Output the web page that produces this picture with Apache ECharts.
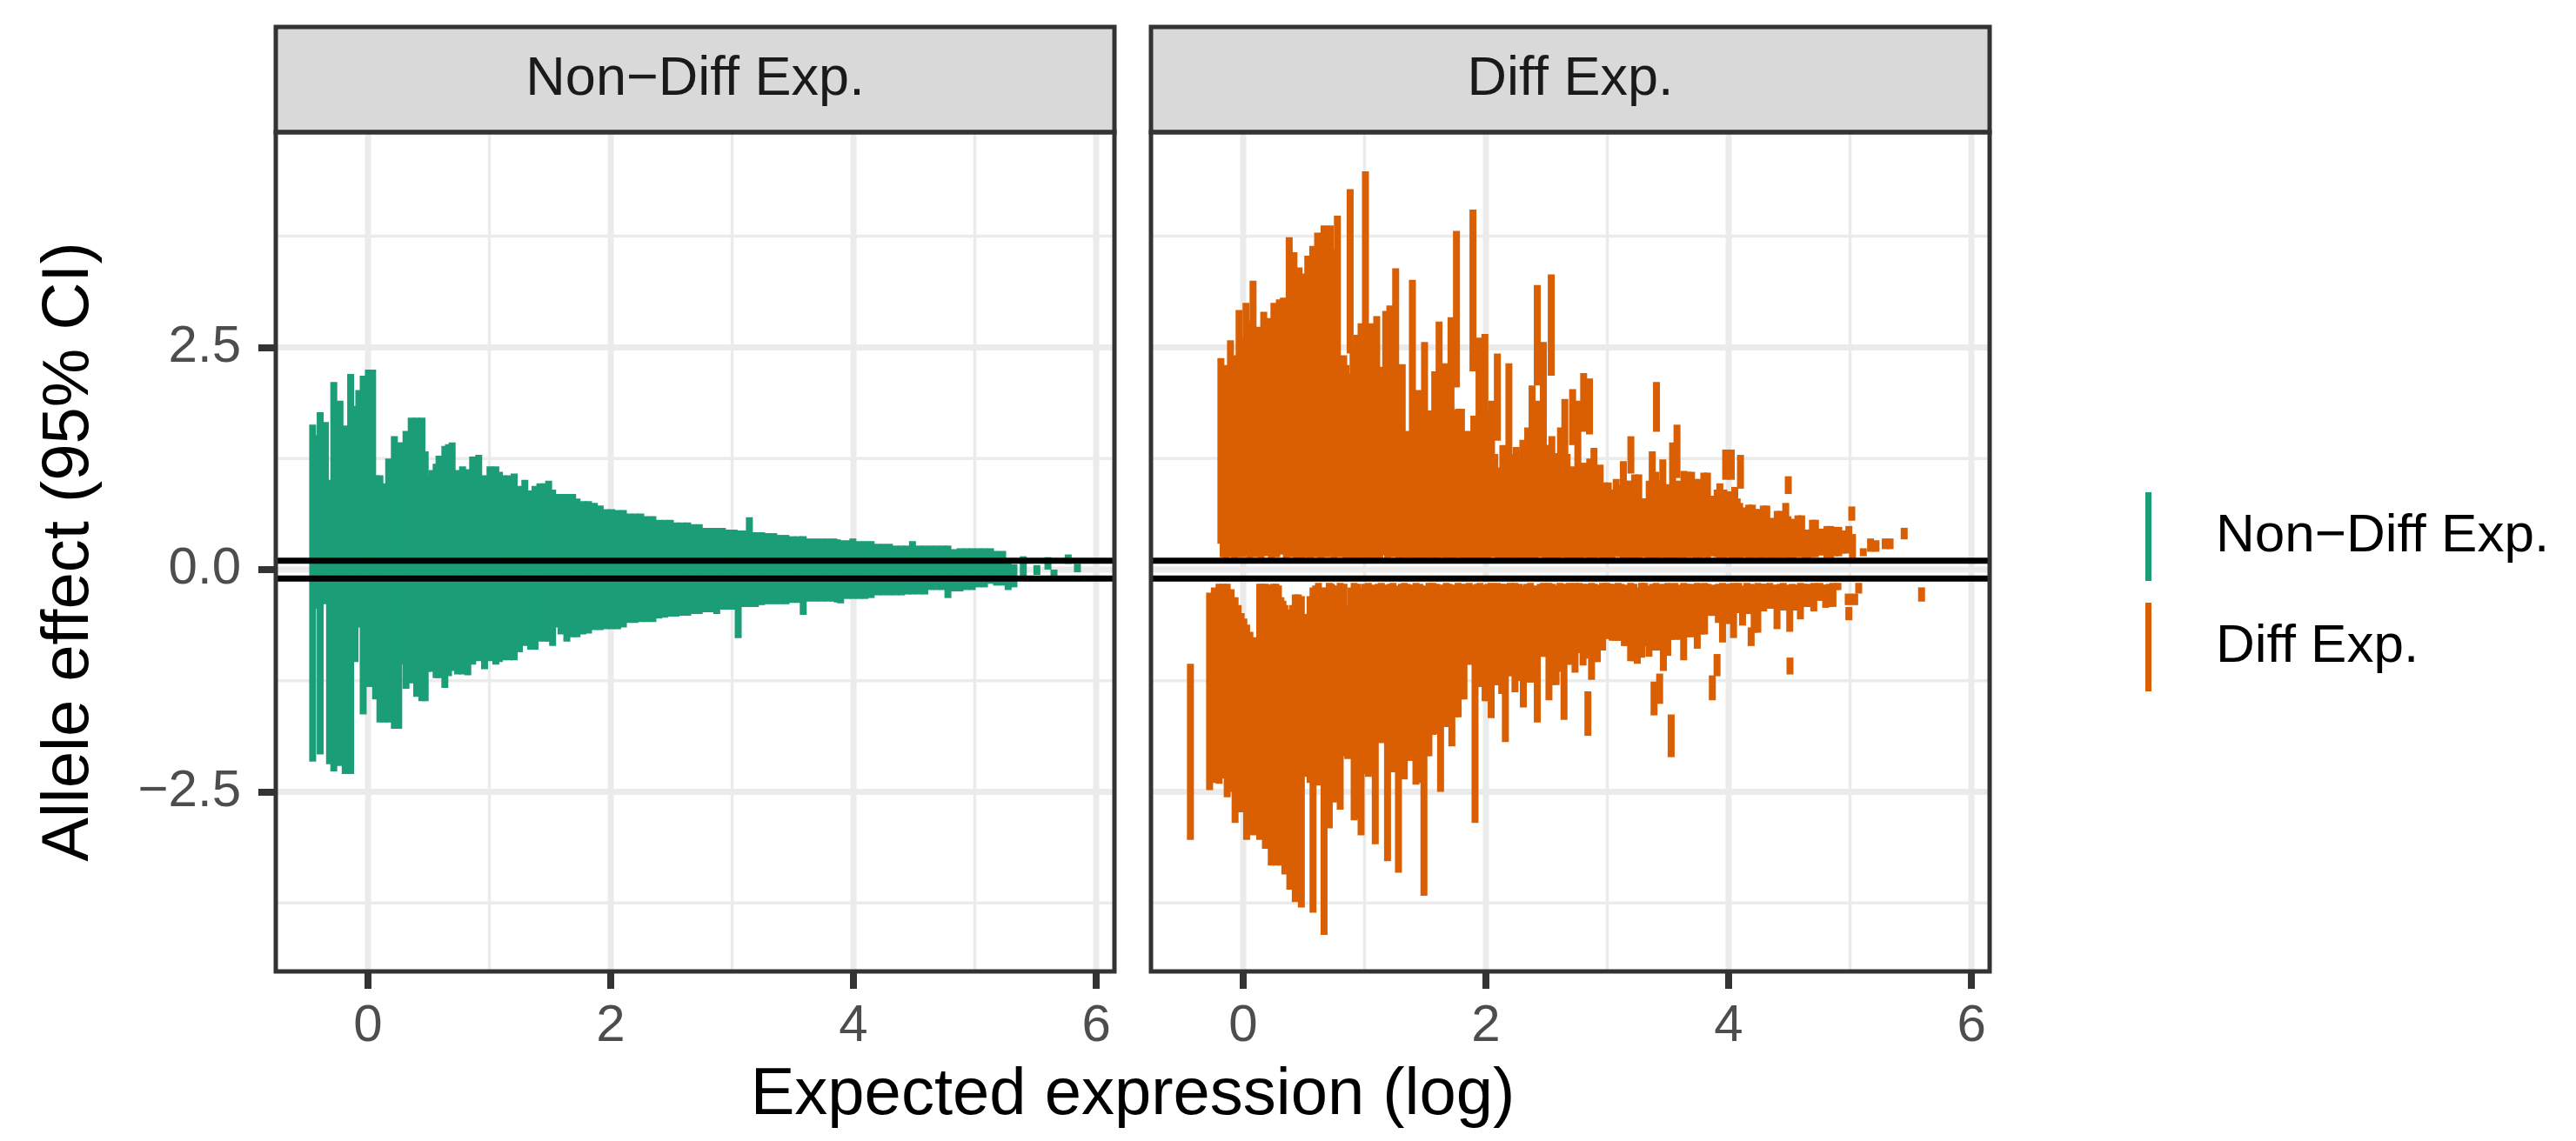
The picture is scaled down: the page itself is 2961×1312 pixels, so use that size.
<!DOCTYPE html>
<html>
<head>
<meta charset="utf-8">
<title>Allele effect vs expected expression</title>
<script src="https://cdn.jsdelivr.net/npm/echarts@6.0.0/dist/echarts.min.js"></script>
<style>
    html, body { margin: 0; padding: 0; background: #fff; }
    #chart { width: 2961px; height: 1312px; }
</style>
</head>
<body>
<div id="chart"></div>
<script>
// facet / legend names
var panelNames = ["Non\u2212Diff Exp.", "Diff Exp."];

// axis ticks and grid breaks
var xTicks = [0, 2, 4, 6];
var xMinorBreaks = [1, 3, 5];
var yTicks = [-2.5, 0, 2.5];
var yMinorBreaks = [-3.75, -1.25, 1.25, 3.75];

// horizontal reference lines
var refLines = [-0.1, 0.1];

// Non-Diff Exp. intervals: [expected expression, lower CI, upper CI]
var nonDiffIntervals = [
    [-0.456, -2.16, 1.63], [-0.427, -0.44, 1.51], [-0.394, -2.08, 1.77], [-0.351, -0.39, 1.66],
    [-0.317, -2.19, 1.01], [-0.282, -2.27, 2.11], [-0.231, -2.21, 1.90], [-0.188, -2.30, 1.62],
    [-0.143, -2.30, 2.20], [-0.107, -1.04, 1.84], [-0.076, -0.65, 2.02], [-0.040, -1.63, 2.18],
    [0.003, -1.32, 2.25], [0.038, -1.32, 2.25], [0.062, -1.46, 1.06], [0.098, -1.72, 1.06],
    [0.134, -1.72, 0.97], [0.170, -1.72, 1.25], [0.217, -1.79, 1.50], [0.253, -1.79, 1.43],
    [0.272, -1.07, 1.43], [0.313, -1.34, 1.56], [0.356, -1.28, 1.71], [0.401, -1.43, 1.71],
    [0.444, -1.48, 1.71], [0.471, -1.48, 1.33], [0.490, -1.15, 1.05], [0.526, -1.15, 1.12],
    [0.561, -1.22, 1.19], [0.585, -1.22, 1.28], [0.633, -1.33, 1.39], [0.663, -1.20, 1.41],
    [0.693, -1.14, 1.43], [0.738, -1.18, 1.12], [0.779, -1.18, 1.16], [0.822, -1.19, 1.13],
    [0.862, -1.07, 1.27], [0.912, -1.03, 1.29], [0.960, -1.12, 1.06], [1.005, -1.03, 1.16],
    [1.053, -1.07, 1.16], [1.083, -1.04, 1.10], [1.113, -1.02, 1.06], [1.161, -1.02, 1.06],
    [1.204, -1.02, 1.08], [1.247, -0.93, 0.94], [1.292, -0.86, 1.01], [1.340, -0.90, 0.89],
    [1.376, -0.90, 0.94], [1.416, -0.81, 0.97], [1.459, -0.81, 0.97], [1.488, -0.81, 1.00],
    [1.521, -0.86, 0.90], [1.555, -0.65, 0.85], [1.590, -0.73, 0.85], [1.638, -0.81, 0.85],
    [1.686, -0.76, 0.85], [1.722, -0.76, 0.80], [1.770, -0.73, 0.77], [1.817, -0.72, 0.77],
    [1.865, -0.68, 0.75], [1.913, -0.68, 0.72], [1.960, -0.67, 0.68], [2.008, -0.67, 0.68],
    [2.056, -0.67, 0.67], [2.104, -0.65, 0.67], [2.152, -0.60, 0.63], [2.199, -0.60, 0.63],
    [2.247, -0.59, 0.63], [2.295, -0.59, 0.60], [2.347, -0.59, 0.60], [2.395, -0.55, 0.56],
    [2.443, -0.54, 0.56], [2.491, -0.53, 0.56], [2.538, -0.53, 0.53], [2.586, -0.52, 0.53],
    [2.634, -0.52, 0.53], [2.682, -0.50, 0.51], [2.729, -0.50, 0.51], [2.777, -0.48, 0.47],
    [2.825, -0.48, 0.47], [2.873, -0.50, 0.47], [2.920, -0.45, 0.47], [2.968, -0.45, 0.45],
    [3.016, -0.45, 0.45], [3.050, -0.77, 0.44], [3.095, -0.42, 0.44], [3.142, -0.42, 0.59],
    [3.192, -0.42, 0.42], [3.243, -0.40, 0.42], [3.293, -0.39, 0.41], [3.343, -0.39, 0.41],
    [3.393, -0.39, 0.39], [3.443, -0.39, 0.39], [3.493, -0.375, 0.375], [3.543, -0.375, 0.375],
    [3.586, -0.51, 0.375], [3.636, -0.36, 0.35], [3.687, -0.36, 0.35], [3.737, -0.36, 0.35],
    [3.787, -0.36, 0.35], [3.837, -0.36, 0.35], [3.866, -0.37, 0.34], [3.894, -0.38, 0.33],
    [3.945, -0.33, 0.33], [3.995, -0.33, 0.35], [4.045, -0.33, 0.32], [4.095, -0.33, 0.32],
    [4.145, -0.32, 0.32], [4.195, -0.29, 0.29], [4.245, -0.29, 0.29], [4.296, -0.29, 0.29],
    [4.346, -0.29, 0.27], [4.396, -0.29, 0.27], [4.446, -0.28, 0.27], [4.486, -0.28, 0.32],
    [4.537, -0.28, 0.27], [4.587, -0.28, 0.27], [4.637, -0.23, 0.27], [4.687, -0.23, 0.27],
    [4.737, -0.23, 0.27], [4.778, -0.32, 0.27], [4.828, -0.245, 0.23], [4.878, -0.245, 0.24],
    [4.928, -0.23, 0.24], [4.978, -0.23, 0.24], [5.029, -0.20, 0.24], [5.079, -0.20, 0.24],
    [5.129, -0.16, 0.24], [5.179, -0.18, 0.21], [5.229, -0.18, 0.21], [5.274, -0.23, 0.12],
    [5.322, -0.20, 0.06], [5.399, -0.075, 0.15], [5.511, -0.06, 0.05], [5.602, 0.00, 0.14],
    [5.652, -0.075, 0.00], [5.769, 0.065, 0.17], [5.845, -0.03, 0.065]
];

// Diff Exp. intervals above zero
var diffUpperIntervals = [
    [-0.184, 0.29, 2.38], [-0.165, 0.14, 2.20], [-0.146, 0.13, 2.30], [-0.120, 0.14, 2.10],
    [-0.105, 0.52, 2.58], [-0.070, 0.13, 2.41], [-0.050, 0.14, 2.30], [-0.034, 0.37, 2.92],
    [-0.005, 0.14, 2.60], [0.023, 0.16, 3.00], [0.052, 0.13, 2.80], [0.081, 0.20, 3.25],
    [0.103, 0.14, 2.60], [0.124, 0.31, 2.73], [0.147, 0.13, 2.60], [0.169, 0.23, 2.90],
    [0.190, 0.15, 2.70], [0.212, 0.53, 2.83], [0.232, 0.13, 2.70], [0.253, 0.21, 3.00],
    [0.276, 0.14, 2.90], [0.298, 0.17, 3.04], [0.331, 0.17, 3.06], [0.355, 0.13, 2.95],
    [0.379, 0.85, 3.74], [0.398, 0.14, 3.20], [0.418, 0.42, 3.57], [0.440, 0.13, 3.30],
    [0.460, 0.13, 3.40], [0.489, 0.13, 3.33], [0.510, 0.15, 3.20], [0.532, 0.14, 3.53],
    [0.552, 0.13, 3.40], [0.573, 0.41, 3.64], [0.593, 0.14, 3.50], [0.613, 0.49, 3.79],
    [0.640, 0.13, 3.60], [0.666, 0.17, 3.87], [0.692, 0.14, 3.70], [0.718, 0.17, 3.87],
    [0.747, 0.13, 3.60], [0.776, 0.21, 3.98], [0.802, 0.14, 2.30], [0.828, 0.41, 2.41],
    [0.847, 0.13, 2.30], [0.866, 0.13, 2.20], [0.881, 2.43, 4.28], [0.905, 0.13, 2.50],
    [0.920, 0.15, 2.40], [0.938, 0.14, 2.64], [0.955, 0.13, 2.50], [0.971, 0.13, 2.77],
    [0.990, 0.14, 2.60], [1.007, 0.90, 4.48], [1.010, 0.13, 2.50], [1.028, 0.13, 2.60],
    [1.048, 0.13, 2.77], [1.074, 0.14, 2.70], [1.100, 0.13, 2.85], [1.125, 0.13, 2.20],
    [1.150, 0.16, 2.28], [1.174, 0.31, 2.91], [1.190, 0.13, 2.20], [1.208, 0.31, 2.97],
    [1.230, 0.14, 2.50], [1.256, 0.18, 3.39], [1.283, 0.13, 2.20], [1.310, 0.13, 2.31],
    [1.328, 0.14, 1.50], [1.346, 0.14, 1.56], [1.370, 0.13, 1.50], [1.394, 0.20, 3.26],
    [1.419, 0.13, 1.90], [1.444, 0.13, 2.02], [1.469, 0.14, 1.90], [1.494, 0.13, 2.56],
    [1.519, 0.13, 1.70], [1.544, 0.18, 1.79], [1.561, 0.14, 1.70], [1.578, 0.13, 2.23],
    [1.596, 0.13, 2.10], [1.614, 0.14, 2.79], [1.640, 0.14, 2.20], [1.666, 0.13, 2.32],
    [1.689, 0.13, 2.20], [1.712, 0.13, 2.84], [1.735, 0.13, 1.80], [1.757, 2.05, 3.81],
    [1.775, 0.14, 1.81], [1.798, 0.13, 1.81], [1.823, 0.14, 1.50], [1.848, 0.13, 1.56],
    [1.870, 0.13, 1.50], [1.893, 2.23, 4.05], [1.900, 0.14, 1.73], [1.922, 0.13, 1.70],
    [1.943, 0.13, 2.61], [1.967, 0.14, 2.40], [1.991, 0.13, 2.65], [2.018, 0.13, 1.80],
    [2.046, 0.15, 1.90], [2.073, 0.14, 1.30], [2.094, 1.45, 2.43], [2.100, 0.13, 1.15],
    [2.120, 0.13, 1.10], [2.139, 0.13, 1.40], [2.164, 0.13, 1.30], [2.189, 0.40, 2.32],
    [2.195, 0.13, 1.30], [2.219, 0.14, 1.30], [2.249, 0.13, 1.38], [2.276, 0.13, 1.30],
    [2.304, 0.14, 1.46], [2.324, 0.13, 1.40], [2.344, 0.13, 1.60], [2.362, 0.14, 1.50],
    [2.380, 0.13, 2.07], [2.405, 0.13, 1.80], [2.423, 2.07, 3.20], [2.430, 0.15, 1.90],
    [2.452, 0.14, 1.60], [2.473, 0.30, 2.56], [2.490, 0.13, 1.40], [2.508, 0.13, 1.40],
    [2.538, 2.18, 3.32], [2.543, 0.13, 1.50], [2.560, 0.14, 1.20], [2.578, 0.13, 1.31],
    [2.596, 0.13, 1.20], [2.614, 0.14, 1.60], [2.632, 0.14, 1.40], [2.650, 0.30, 1.92],
    [2.668, 0.13, 1.30], [2.690, 0.13, 1.10], [2.714, 1.40, 2.03], [2.720, 0.13, 1.16],
    [2.738, 0.14, 1.10], [2.757, 0.13, 1.90], [2.778, 0.13, 1.20], [2.805, 1.55, 2.21],
    [2.800, 0.14, 1.20], [2.828, 0.14, 1.20], [2.853, 1.52, 2.15], [2.855, 0.13, 1.25],
    [2.872, 0.13, 1.20], [2.890, 0.13, 1.37], [2.915, 0.14, 1.10], [2.941, 0.14, 1.18],
    [2.958, 0.13, 0.95], [2.975, 0.13, 0.98], [3.008, 0.13, 0.98], [3.040, 0.13, 0.90],
    [3.073, 0.15, 1.02], [3.100, 0.14, 0.95], [3.132, 0.13, 1.22], [3.165, 0.13, 1.00],
    [3.194, 1.08, 1.50], [3.190, 0.13, 1.00], [3.225, 0.13, 1.07], [3.259, 0.13, 1.07],
    [3.292, 0.14, 0.80], [3.323, 0.14, 0.80], [3.345, 0.13, 1.00], [3.370, 0.13, 1.33],
    [3.405, 1.55, 2.11], [3.400, 0.13, 1.10], [3.420, 0.13, 0.90], [3.440, 0.14, 1.00],
    [3.457, 0.15, 1.24], [3.480, 0.13, 0.90], [3.505, 0.13, 0.96], [3.538, 0.13, 1.43],
    [3.574, 1.03, 1.63], [3.560, 0.14, 1.00], [3.580, 0.13, 0.95], [3.605, 0.14, 1.00],
    [3.631, 0.13, 1.11], [3.665, 0.14, 1.10], [3.694, 0.14, 1.10], [3.730, 0.13, 1.02],
    [3.760, 0.13, 1.02], [3.795, 0.14, 1.09], [3.825, 0.13, 1.09], [3.855, 0.15, 0.83],
    [3.880, 0.15, 0.83], [3.905, 0.14, 0.90], [3.927, 0.13, 0.97], [3.960, 0.13, 0.90],
    [3.975, 1.01, 1.35], [4.000, 0.14, 0.88], [4.021, 1.01, 1.35], [4.025, 0.13, 0.85],
    [4.050, 0.13, 0.93], [4.070, 0.14, 0.80], [4.090, 0.13, 0.75], [4.097, 0.91, 1.29],
    [4.110, 0.14, 0.70], [4.130, 0.14, 0.65], [4.165, 0.13, 0.73], [4.195, 0.13, 0.73],
    [4.225, 0.14, 0.68], [4.255, 0.13, 0.68], [4.285, 0.13, 0.72], [4.314, 0.14, 0.72],
    [4.345, 0.13, 0.58], [4.374, 0.13, 0.58], [4.400, 0.14, 0.66], [4.429, 0.13, 0.66],
    [4.450, 0.14, 0.62], [4.470, 0.15, 0.75], [4.491, 0.85, 1.05], [4.488, 0.13, 0.60],
    [4.505, 0.13, 0.57], [4.536, 0.13, 0.57], [4.570, 0.14, 0.61], [4.601, 0.14, 0.61],
    [4.630, 0.13, 0.45], [4.656, 0.13, 0.45], [4.690, 0.14, 0.56], [4.715, 0.14, 0.56],
    [4.750, 0.16, 0.46], [4.780, 0.16, 0.46], [4.810, 0.13, 0.49], [4.840, 0.13, 0.49],
    [4.875, 0.15, 0.48], [4.907, 0.15, 0.48], [4.935, 0.18, 0.44], [4.966, 0.18, 0.44],
    [4.990, 0.20, 0.49], [5.014, 0.55, 0.71], [5.020, 0.13, 0.40], [5.109, 0.15, 0.24],
    [5.169, 0.20, 0.35], [5.214, 0.20, 0.33], [5.290, 0.23, 0.35], [5.330, 0.23, 0.35],
    [5.446, 0.34, 0.47]
];

// Diff Exp. intervals below zero
var diffLowerIntervals = [
    [-0.435, -3.04, -1.06], [-0.277, -2.48, -0.26], [-0.238, -2.40, -0.20], [-0.199, -2.41, -0.16],
    [-0.165, -2.35, -0.16], [-0.132, -2.56, -0.16], [-0.100, -2.50, -0.22], [-0.067, -2.85, -0.31],
    [-0.042, -2.60, -0.40], [-0.017, -2.73, -0.49], [0.005, -2.70, -0.55], [0.028, -3.04, -0.62],
    [0.055, -2.90, -0.70], [0.083, -2.99, -0.76], [0.110, -2.90, -0.80], [0.136, -3.04, -0.16],
    [0.160, -3.00, -0.16], [0.183, -3.14, -0.16], [0.207, -3.10, -0.17], [0.231, -3.33, -0.18],
    [0.250, -3.20, -0.16], [0.270, -3.33, -0.16], [0.290, -3.25, -0.18], [0.310, -3.33, -0.31],
    [0.327, -3.30, -0.35], [0.343, -3.43, -0.40], [0.364, -3.40, -0.45], [0.384, -3.60, -0.50],
    [0.406, -3.50, -0.40], [0.429, -3.74, -0.28], [0.454, -3.60, -0.28], [0.479, -3.80, -0.30],
    [0.503, -2.30, -0.50], [0.527, -2.33, -0.78], [0.551, -2.40, -0.30], [0.575, -3.86, -0.20],
    [0.597, -2.40, -0.18], [0.620, -2.43, -0.15], [0.643, -2.40, -0.20], [0.666, -4.11, -0.30],
    [0.688, -2.85, -0.20], [0.709, -2.91, -0.15], [0.727, -2.60, -0.16], [0.744, -2.62, -0.25],
    [0.771, -2.60, -0.18], [0.799, -2.70, -0.15], [0.830, -2.10, -0.16], [0.861, -2.13, -0.40],
    [0.888, -2.10, -0.20], [0.914, -2.82, -0.15], [0.943, -2.80, -0.16], [0.971, -2.99, -0.20],
    [1.001, -2.30, -0.16], [1.031, -2.33, -0.15], [1.060, -2.30, -0.17], [1.088, -3.09, -0.20],
    [1.113, -1.95, -0.16], [1.138, -1.95, -0.15], [1.164, -1.95, -0.17], [1.189, -3.28, -0.25],
    [1.212, -2.25, -0.16], [1.234, -2.28, -0.15], [1.257, -2.25, -0.18], [1.279, -3.41, -0.30],
    [1.303, -2.35, -0.16], [1.327, -2.36, -0.15], [1.350, -2.15, -0.16], [1.372, -2.15, -0.20],
    [1.398, -2.15, -0.17], [1.423, -2.42, -0.15], [1.456, -2.40, -0.16], [1.489, -3.67, -0.35],
    [1.510, -2.10, -0.18], [1.530, -2.10, -0.15], [1.564, -1.86, -0.15], [1.595, -1.85, -0.16],
    [1.626, -2.50, -0.20], [1.650, -1.77, -0.17], [1.673, -1.77, -0.15], [1.696, -1.77, -0.16],
    [1.719, -1.99, -0.20], [1.745, -1.66, -0.17], [1.771, -1.66, -0.15], [1.795, -1.46, -0.16],
    [1.819, -1.46, -0.18], [1.840, -1.07, -0.16], [1.862, -1.07, -0.15], [1.886, -1.07, -0.17],
    [1.910, -2.85, -0.70], [1.930, -1.32, -0.16], [1.950, -1.32, -0.15], [1.972, -1.32, -0.17],
    [1.993, -1.48, -0.20], [2.018, -1.48, -0.16], [2.043, -1.67, -0.15], [2.068, -1.30, -0.17],
    [2.093, -1.30, -0.15], [2.112, -1.30, -0.16], [2.130, -1.40, -0.16], [2.160, -1.94, -0.22],
    [2.180, -1.20, -0.16], [2.200, -1.20, -0.15], [2.239, -1.38, -0.15], [2.257, -1.25, -0.17],
    [2.275, -1.25, -0.16], [2.308, -1.55, -0.18], [2.337, -1.27, -0.16], [2.366, -1.27, -0.15],
    [2.395, -1.27, -0.18], [2.423, -1.72, -0.25], [2.448, -0.98, -0.16], [2.473, -0.98, -0.15],
    [2.496, -0.98, -0.17], [2.519, -1.47, -0.15], [2.548, -1.30, -0.16], [2.578, -1.30, -0.18],
    [2.610, -1.15, -0.15], [2.643, -1.69, -0.20], [2.665, -1.07, -0.16], [2.686, -1.07, -0.15],
    [2.710, -1.07, -0.17], [2.734, -1.16, -0.15], [2.769, -0.94, -0.15], [2.800, -1.08, -0.16],
    [2.835, -1.00, -0.16], [2.840, -1.87, -1.37], [2.870, -1.24, -0.15], [2.894, -1.04, -0.16],
    [2.918, -1.04, -0.18], [2.940, -0.91, -0.17], [2.961, -0.91, -0.15], [2.996, -0.78, -0.15],
    [3.018, -0.78, -0.16], [3.040, -0.80, -0.16], [3.065, -0.80, -0.17], [3.090, -0.80, -0.15],
    [3.115, -0.80, -0.16], [3.140, -0.86, -0.18], [3.166, -0.86, -0.17], [3.192, -1.03, -0.15],
    [3.220, -1.03, -0.16], [3.247, -1.06, -0.20], [3.283, -0.99, -0.15], [3.307, -0.86, -0.15],
    [3.343, -0.98, -0.18], [3.372, -0.91, -0.16], [3.385, -1.64, -1.26], [3.402, -0.91, -0.15],
    [3.431, -1.51, -1.17], [3.432, -0.91, -0.17], [3.462, -1.14, -0.16], [3.498, -0.97, -0.15],
    [3.526, -2.11, -1.63], [3.527, -0.79, -0.16], [3.557, -0.79, -0.15], [3.600, -0.79, -0.17],
    [3.629, -1.02, -0.15], [3.655, -0.76, -0.16], [3.682, -0.76, -0.16], [3.711, -0.76, -0.17],
    [3.741, -0.89, -0.15], [3.771, -0.73, -0.16], [3.801, -0.73, -0.15], [3.830, -0.52, -0.16],
    [3.858, -0.52, -0.18], [3.865, -1.47, -1.19], [3.880, -0.52, -0.17], [3.904, -1.20, -0.95],
    [3.915, -0.60, -0.16], [3.949, -0.82, -0.15], [3.970, -0.61, -0.17], [3.992, -0.61, -0.16],
    [4.016, -0.61, -0.16], [4.040, -0.77, -0.15], [4.062, -0.49, -0.16], [4.083, -0.49, -0.15],
    [4.114, -0.63, -0.18], [4.150, -0.50, -0.15], [4.180, -0.50, -0.16], [4.185, -0.86, -0.65],
    [4.210, -0.71, -0.17], [4.240, -0.71, -0.15], [4.264, -0.47, -0.16], [4.288, -0.47, -0.16],
    [4.313, -0.44, -0.16], [4.338, -0.44, -0.15], [4.368, -0.44, -0.17], [4.398, -0.67, -0.17],
    [4.424, -0.46, -0.16], [4.450, -0.46, -0.15], [4.477, -0.46, -0.17], [4.503, -0.70, -0.18],
    [4.505, -1.18, -0.99], [4.525, -0.46, -0.16], [4.548, -0.46, -0.20], [4.570, -0.46, -0.17],
    [4.591, -0.56, -0.15], [4.617, -0.42, -0.16], [4.644, -0.42, -0.16], [4.672, -0.42, -0.17],
    [4.701, -0.47, -0.15], [4.726, -0.35, -0.16], [4.751, -0.35, -0.15], [4.775, -0.35, -0.17],
    [4.799, -0.43, -0.17], [4.829, -0.42, -0.16], [4.859, -0.42, -0.15], [4.880, -0.23, -0.16],
    [4.900, -0.23, -0.15], [4.985, -0.40, -0.27], [4.990, -0.57, -0.42], [5.038, -0.40, -0.27],
    [5.071, -0.27, -0.15], [5.589, -0.36, -0.20]
];

/**
 * facet chart of allele effects
 */
var alleleChart = {

    params: {
        chart: undefined
    },

    // pixel layout of the two facets
    layout: {
        panelLeft: [317, 1323],
        panelTop: 152,
        panelWidth: 964,
        panelHeight: 965,
        stripTop: 31,
        stripHeight: 121,
        xRange: [-0.76, 6.15],
        yRange: [-4.52, 4.92]
    },

    colors: ["#1B9E77", "#D95F02"],
    font: "'Liberation Sans', Arial, Helvetica, sans-serif",

    /**
     * entry point
     */
    init: function() {
        alleleChart.params.chart = echarts.init(document.getElementById("chart"));
        alleleChart.params.chart.setOption(alleleChart.getOption(), true);
    },

    /**
     * one vertical interval per row: x, lower, upper
     */
    renderInterval: function(params, api) {
        var top = api.coord([api.value(0), api.value(2)]);
        var bottom = api.coord([api.value(0), api.value(1)]);
        return {
            type: "line",
            shape: { x1: top[0], y1: top[1], x2: bottom[0], y2: bottom[1] },
            style: { stroke: api.visual("color"), lineWidth: 8, lineCap: "butt" }
        };
    },

    /**
     * panel grid lines (dim 0 = vertical, 1 = horizontal; flag 1 = major)
     */
    renderGuide: function(params, api) {
        var cs = params.coordSys;
        var width = api.value(2) === 1 ? 7 : 3.5;
        var shape;
        if (api.value(0) === 0) {
            var px = api.coord([api.value(1), 0])[0];
            shape = { x1: px, y1: cs.y, x2: px, y2: cs.y + cs.height };
        } else {
            var py = api.coord([0, api.value(1)])[1];
            shape = { x1: cs.x, y1: py, x2: cs.x + cs.width, y2: py };
        }
        return { type: "line", shape: shape, style: { stroke: "#EBEBEB", lineWidth: width } };
    },

    /**
     * black reference lines across the whole panel
     */
    renderRef: function(params, api) {
        var cs = params.coordSys;
        var py = api.coord([0, api.value(0)])[1];
        return {
            type: "line",
            shape: { x1: cs.x, y1: py, x2: cs.x + cs.width, y2: py },
            style: { stroke: "#000000", lineWidth: 7 }
        };
    },

    guideData: function() {
        var rows = [];
        xTicks.forEach(function(v) { rows.push([0, v, 1]); });
        xMinorBreaks.forEach(function(v) { rows.push([0, v, 0]); });
        yTicks.forEach(function(v) { rows.push([1, v, 1]); });
        yMinorBreaks.forEach(function(v) { rows.push([1, v, 0]); });
        return rows;
    },

    formatY: function(v) {
        return (v < 0 ? "\u2212" : "") + Math.abs(v).toFixed(1);
    },

    getOption: function() {
        var L = alleleChart.layout;
        var font = alleleChart.font;
        var grids = [], xAxes = [], yAxes = [], series = [], graphics = [];

        for (var i = 0; i < 2; i++) {
            grids.push({
                left: L.panelLeft[i], top: L.panelTop,
                width: L.panelWidth, height: L.panelHeight,
                show: false, containLabel: false, outerBoundsMode: "none"
            });
            xAxes.push({
                gridIndex: i, type: "value", position: "bottom",
                min: L.xRange[0], max: L.xRange[1],
                axisLine: { show: false, onZero: false },
                splitLine: { show: false },
                axisTick: { show: true, customValues: xTicks, length: 20, lineStyle: { color: "#333333", width: 8 } },
                axisLabel: {
                    customValues: xTicks, margin: 33,
                    color: "#4D4D4D", fontSize: 60, fontFamily: font,
                    formatter: function(v) { return String(v); }
                }
            });
            yAxes.push({
                gridIndex: i, type: "value", position: "left",
                min: L.yRange[0], max: L.yRange[1],
                axisLine: { show: false, onZero: false },
                splitLine: { show: false },
                axisTick: { show: i === 0, customValues: yTicks, length: 20, lineStyle: { color: "#333333", width: 8 } },
                axisLabel: {
                    show: i === 0, customValues: yTicks, margin: 40,
                    color: "#4D4D4D", fontSize: 60, fontFamily: font,
                    formatter: alleleChart.formatY
                }
            });

            series.push({
                name: "guide" + i, type: "custom", xAxisIndex: i, yAxisIndex: i,
                z: 1, silent: true, renderItem: alleleChart.renderGuide,
                data: alleleChart.guideData()
            });
            series.push({
                name: "ref" + i, type: "custom", xAxisIndex: i, yAxisIndex: i,
                z: 3, silent: true, renderItem: alleleChart.renderRef,
                encode: { y: 0 },
                data: refLines.map(function(v) { return [v]; })
            });

            // facet strip
            graphics.push({
                type: "rect", z: 10,
                shape: { x: L.panelLeft[i], y: L.stripTop, width: L.panelWidth, height: L.stripHeight },
                style: { fill: "#D9D9D9", stroke: "#333333", lineWidth: 5 }
            });
            graphics.push({
                type: "text", z: 11,
                x: L.panelLeft[i] + L.panelWidth / 2, y: L.stripTop + L.stripHeight / 2,
                style: { text: panelNames[i], fill: "#1A1A1A", font: "63px " + font, align: "center", verticalAlign: "middle" }
            });
            // panel border
            graphics.push({
                type: "rect", z: 10, silent: true,
                shape: { x: L.panelLeft[i], y: L.panelTop, width: L.panelWidth, height: L.panelHeight },
                style: { fill: null, stroke: "#333333", lineWidth: 5 }
            });
        }

        series.push({
            name: panelNames[0], type: "custom", xAxisIndex: 0, yAxisIndex: 0,
            z: 2, clip: true, silent: true,
            itemStyle: { color: alleleChart.colors[0] },
            renderItem: alleleChart.renderInterval,
            encode: { x: 0, y: [1, 2] },
            data: nonDiffIntervals
        });
        series.push({
            name: panelNames[1], type: "custom", xAxisIndex: 1, yAxisIndex: 1,
            z: 2, clip: true, silent: true,
            itemStyle: { color: alleleChart.colors[1] },
            renderItem: alleleChart.renderInterval,
            encode: { x: 0, y: [1, 2] },
            data: diffUpperIntervals.concat(diffLowerIntervals)
        });

        // axis titles
        graphics.push({
            type: "text", z: 11,
            x: (L.panelLeft[0] + L.panelLeft[1] + L.panelWidth) / 2, y: 1260,
            style: { text: "Expected expression (log)", fill: "#000000", font: "76px " + font, align: "center", verticalAlign: "middle" }
        });
        graphics.push({
            type: "text", z: 11,
            x: 80, y: L.panelTop + L.panelHeight / 2, rotation: Math.PI / 2,
            style: { text: "Allele effect (95% CI)", fill: "#000000", font: "76px " + font, align: "center", verticalAlign: "middle" }
        });

        return {
            backgroundColor: "#FFFFFF",
            animation: false,
            textStyle: { fontFamily: font },
            grid: grids,
            xAxis: xAxes,
            yAxis: yAxes,
            legend: {
                orient: "vertical",
                left: 2461, top: 561,
                itemWidth: 76, itemHeight: 102, itemGap: 25,
                selectedMode: false,
                icon: "path://M0,0L7,0L7,102L0,102ZM76,0",
                textStyle: { fontSize: 62, fontFamily: font, color: "#000000" },
                data: panelNames
            },
            graphic: graphics,
            series: series
        };
    }
};

alleleChart.init();
</script>
</body>
</html>
